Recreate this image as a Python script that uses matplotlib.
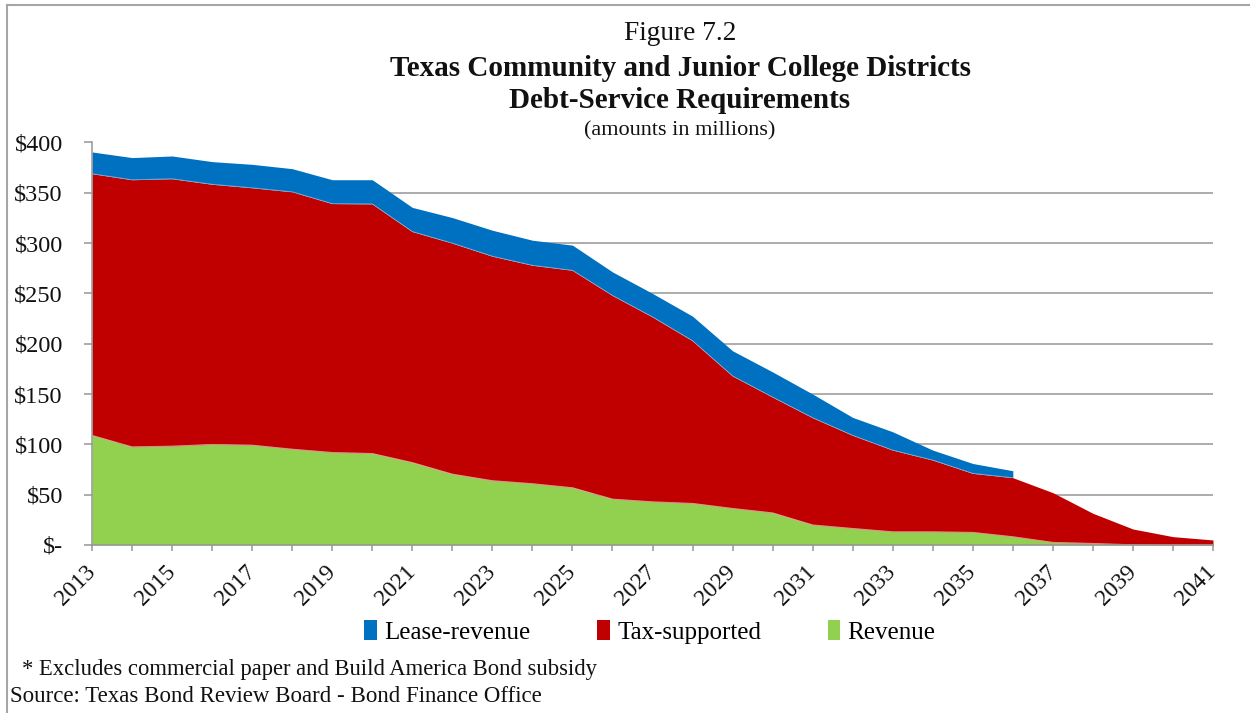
import numpy as np
import matplotlib
matplotlib.use("Agg")
import matplotlib.pyplot as plt
from matplotlib.patches import Patch
from matplotlib.lines import Line2D

# Debt-service requirements, millions of dollars
years = list(range(2013, 2042))
revenue = [109.0, 97.6, 98.3, 100.0, 99.3, 95.3, 92.0, 91.0, 82.0, 70.5,
           64.0, 61.0, 57.0, 45.7, 43.0, 41.4, 36.4, 32.0, 20.0, 16.5,
           13.2, 13.2, 12.6, 8.3, 2.7, 1.6, 0.3, 0.1, 0.05]
tax_supported = [260.0, 265.4, 265.7, 258.5, 255.7, 255.7, 247.3, 248.0, 229.5, 229.5,
                 223.0, 217.0, 216.0, 202.3, 183.7, 161.6, 131.6, 115.0, 106.5, 92.5,
                 81.1, 71.2, 58.6, 58.6, 49.3, 29.9, 15.6, 8.2, 4.95]
# lease-revenue debt is retired after 2036
lease_revenue = [21.6, 22.0, 22.6, 22.5, 23.3, 23.0, 23.7, 24.0, 24.0, 25.4,
                 25.8, 24.9, 25.0, 23.4, 23.3, 24.4, 25.0, 25.0, 23.5, 17.8,
                 18.2, 9.9, 9.8, 6.9]

y_ticks = [0, 50, 100, 150, 200, 250, 300, 350, 400]
y_tick_labels = ["$-", "$50", "$100", "$150", "$200", "$250", "$300", "$350", "$400"]
x_label_years = list(range(2013, 2042, 2))

series_names = ["Lease-revenue", "Tax-supported", "Revenue"]
colors = {"Lease-revenue": "#0070C0", "Tax-supported": "#C00000", "Revenue": "#92D050"}

plt.rcParams['font.family'] = ['Liberation Serif', 'DejaVu Serif']

W, H = 1250, 713
fig = plt.figure(figsize=(W / 100, H / 100), dpi=100)
ax = fig.add_axes([92 / W, 1 - 545 / H, (1213 - 92) / W, (545 - 142.5) / H])

yrs = np.array(years, dtype=float)
rev = np.array(revenue)
tax = np.array(tax_supported)
lease = np.array(lease_revenue)
n_lease = len(lease)

tax_top = rev + tax
ax.fill_between(yrs, 0, rev, color=colors["Revenue"], linewidth=0, zorder=3)
ax.fill_between(yrs, rev, tax_top, color=colors["Tax-supported"], linewidth=0, zorder=3)
ax.fill_between(yrs[:n_lease], tax_top[:n_lease], tax_top[:n_lease] + lease,
                color=colors["Lease-revenue"], linewidth=0, zorder=3)
# faint seams between the stacked bands
ax.plot(yrs, rev, color="white", lw=0.6, alpha=0.6, zorder=4)
ax.plot(yrs[:n_lease], tax_top[:n_lease], color="white", lw=0.6, alpha=0.4, zorder=4)

ax.set_xlim(2013, 2041)
ax.set_ylim(0, 400)

grid_color = "#969696"
ax.set_yticks(y_ticks)
ax.set_yticklabels(y_tick_labels)
ax.yaxis.grid(True, color=grid_color, linewidth=1.1, zorder=0)
ax.set_axisbelow(True)

ax.set_xticks(years)
ax.set_xticklabels([str(y) if y in x_label_years else "" for y in years],
                   rotation=45, ha="right", va="center", rotation_mode="anchor")

for side in ("top", "right"):
    ax.spines[side].set_visible(False)
for side in ("left", "bottom"):
    ax.spines[side].set_color(grid_color)
    ax.spines[side].set_linewidth(1.1)
    ax.spines[side].set_zorder(5)

ax.tick_params(axis="y", length=6, width=1.1, color=grid_color, pad=15,
               labelsize=17.5, labelcolor="#111111")
ax.tick_params(axis="x", length=4, width=1.1, color=grid_color, pad=13,
               labelsize=17, labelcolor="#111111")

# titles
cx = 680 / W
fig.text(cx, 1 - 33 / H, "Figure 7.2", ha="center", va="center", fontsize=19.7, color="#111111")
fig.text(cx, 1 - 68 / H, "Texas Community and Junior College Districts", ha="center",
         va="center", fontsize=21, fontweight="bold", color="#111111")
fig.text(cx, 1 - 100 / H, "Debt-Service Requirements", ha="center", va="center",
         fontsize=21, fontweight="bold", color="#111111")
fig.text(cx, 1 - 131 / H, "(amounts in millions)", ha="center", va="center",
         fontsize=16, color="#111111")

# legend
handles = [Patch(facecolor=colors[s], edgecolor="none") for s in series_names]
fig.legend(handles, series_names, loc="center", bbox_to_anchor=(650 / W, 1 - 632 / H),
           ncol=3, frameon=False, fontsize=18, handlelength=0.5, handleheight=0.8,
           handletextpad=0.3, columnspacing=2.66, borderaxespad=0)

# notes
fig.text(22 / W, 1 - 670 / H, "* Excludes commercial paper and Build America Bond subsidy",
         ha="left", va="center", fontsize=16.3, color="#111111")
fig.text(10 / W, 1 - 696 / H, "Source: Texas Bond Review Board - Bond Finance Office",
         ha="left", va="center", fontsize=16.5, color="#111111")

# chart frame
frame_color = "#a6a6a6"
fig.add_artist(Line2D([7 / W, 1.0], [1 - 5 / H, 1 - 5 / H], transform=fig.transFigure,
                      color=frame_color, lw=1.5))
fig.add_artist(Line2D([7 / W, 7 / W], [0.0, 1 - 5 / H], transform=fig.transFigure,
                      color=frame_color, lw=1.5))

fig.savefig("out.png", dpi=100)
